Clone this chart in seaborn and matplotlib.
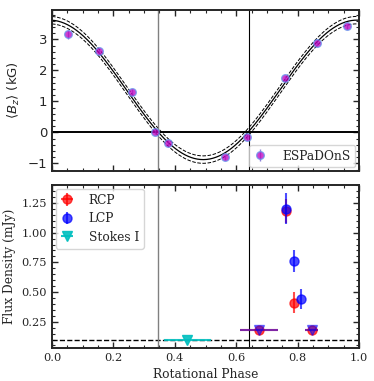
import numpy as np
import pandas as pd
import matplotlib
matplotlib.use('Agg')
import matplotlib.pyplot as plt
import seaborn as sns

# ESPaDOnS longitudinal field measurements
bz_phase = [0.053, 0.154, 0.260, 0.336, 0.377, 0.563, 0.636, 0.759, 0.862, 0.962]
bz_value = [3.16, 2.62, 1.30, 0.01, -0.35, -0.80, -0.15, 1.74, 2.88, 3.43]
bz_err = [0.15, 0.08, 0.09, 0.08, 0.09, 0.08, 0.09, 0.09, 0.08, 0.08]

# sinusoidal fit parameters (B0 + B1 cos(2pi(phi - phi0))) and its uncertainty band
fit_b0 = 1.37
fit_b1 = 2.25
fit_phi0 = -0.0075
fit_band = 0.12

# radio flux densities
rcp_phase = [0.675, 0.762, 0.787, 0.846]
rcp_flux = [0.18, 1.18, 0.41, 0.18]
rcp_yerr = [0.0, 0.10, 0.09, 0.0]
rcp_xerr = [0.062, 0.0, 0.0, 0.021]

lcp_phase = [0.762, 0.787, 0.811]
lcp_flux = [1.20, 0.76, 0.44]
lcp_yerr = [0.13, 0.09, 0.085]
lcp_lim_phase = [0.675, 0.846]
lcp_lim_flux = [0.18, 0.18]
lcp_lim_xerr = [0.062, 0.021]

stokes_phase = [0.441]
stokes_flux = [0.10]
stokes_xerr = [0.077]

noise_level = 0.10
null_phases = [0.345, 0.64]

sns.set_style('ticks')
plt.rcParams['font.family'] = ['DejaVu Serif']
plt.rcParams['font.size'] = 8.2
plt.rcParams['axes.linewidth'] = 1.4

fig = plt.figure(figsize=(3.74, 3.81), dpi=100)
ax1 = fig.add_axes([0.139, 0.551, 0.821, 0.423])
ax2 = fig.add_axes([0.139, 0.087, 0.821, 0.427])

# --- top panel: magnetic curve
phi = np.linspace(0, 1, 400)
model = fit_b0 + fit_b1 * np.cos(2 * np.pi * (phi - fit_phi0))
curve = pd.DataFrame({'phase': phi, 'bz': model})
sns.lineplot(data=curve, x='phase', y='bz', color='k', lw=0.9, ax=ax1)
ax1.plot(phi, model + fit_band, 'k--', lw=0.7)
ax1.plot(phi, model - fit_band, 'k--', lw=0.7)
ax1.axhline(0, color='k', lw=1.4)
ax1.axvline(null_phases[0], color='gray', lw=1.0)
ax1.axvline(null_phases[1], color='k', lw=0.8)
ax1.errorbar(bz_phase, bz_value, yerr=bz_err, fmt='o', ms=5.5, mfc='m',
             mec='cornflowerblue', mew=1.0, color='slateblue', elinewidth=1.0,
             alpha=0.75, label='ESPaDOnS', zorder=5)
ax1.set_xlim(0, 1)
ax1.set_ylim(-1.25, 3.95)
ax1.set_xticklabels([])
ax1.set_xlabel('')
ax1.set_ylabel(r'$\langle B_z\rangle$ (kG)', fontfamily='DejaVu Sans', fontsize=9.5)
for lab in ax1.get_yticklabels():
    lab.set_fontfamily('DejaVu Sans')
    lab.set_fontsize(9.5)
ax1.legend(loc='lower right', fontsize=8.8, handlelength=1.0, handletextpad=1.3,
           borderpad=0.4, borderaxespad=0.3)

# --- bottom panel: radio
ax2.axhline(noise_level, color='k', ls='--', lw=1.0)
ax2.axvline(null_phases[0], color='gray', lw=1.0)
ax2.axvline(null_phases[1], color='k', lw=0.8)
ax2.errorbar(rcp_phase, rcp_flux, yerr=rcp_yerr, xerr=rcp_xerr, fmt='o', ms=6.5,
             color='r', alpha=0.7, elinewidth=1.5, label='RCP', zorder=4)
ax2.errorbar(lcp_phase, lcp_flux, yerr=lcp_yerr, fmt='o', ms=6.5,
             color='b', alpha=0.7, elinewidth=1.5, label='LCP', zorder=5)
ax2.errorbar(lcp_lim_phase, lcp_lim_flux, xerr=lcp_lim_xerr, fmt='v', ms=6.5,
             color='b', alpha=0.5, elinewidth=1.5, zorder=5)
ax2.errorbar(stokes_phase, stokes_flux, xerr=stokes_xerr, fmt='v', ms=6.5,
             color='c', alpha=0.9, elinewidth=1.5, label='Stokes I', zorder=5)
ax2.set_xlim(0, 1)
ax2.set_ylim(0.03, 1.4)
ax2.set_yticks([0.25, 0.5, 0.75, 1.0, 1.25])
ax2.set_xlabel('Rotational Phase', fontsize=8.8)
ax2.set_ylabel('Flux Density (mJy)', fontsize=8.8)
ax2.legend(loc='upper left', fontsize=8.8, handlelength=1.0, handletextpad=1.3,
           borderpad=0.4, labelspacing=0.45, borderaxespad=0.3)

for ax in (ax1, ax2):
    ax.minorticks_on()
    ax.tick_params(which='both', direction='in', top=True, right=True)
    ax.tick_params(which='major', length=4.5, width=1.0)
    ax.tick_params(which='minor', length=2.2, width=0.8)

fig.savefig('out.png', dpi=100)
